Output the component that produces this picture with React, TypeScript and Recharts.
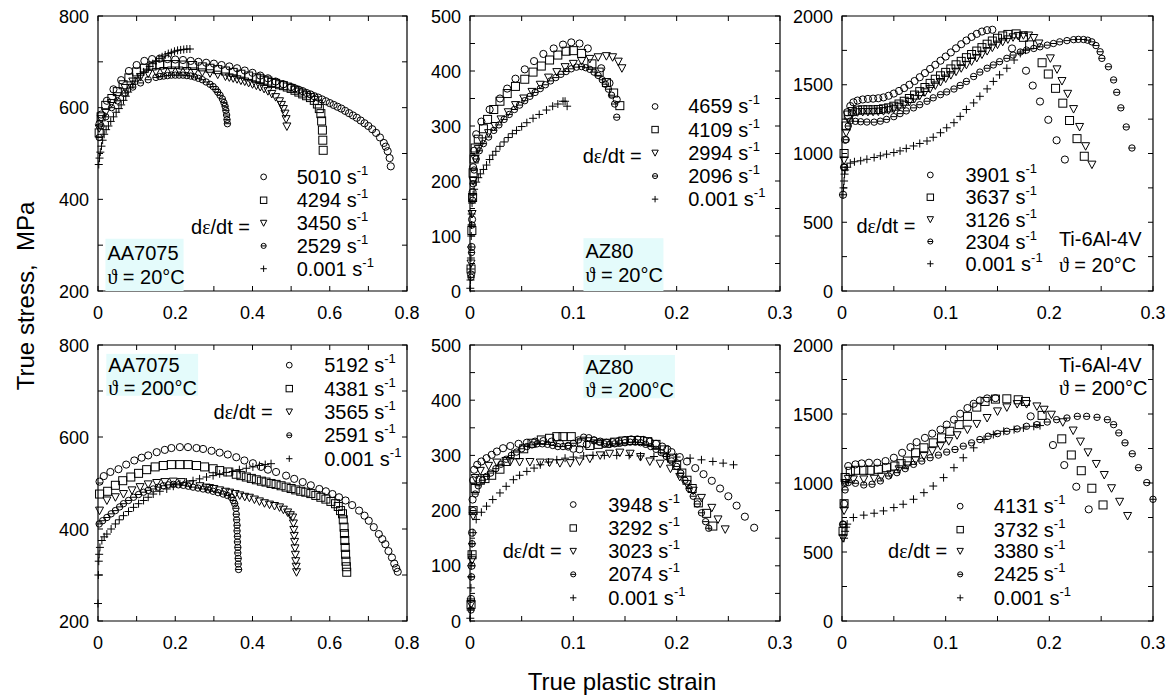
import React from 'react'
import { ReferenceArea, Scatter, ScatterChart, XAxis, YAxis } from 'recharts'

type Pt = [number, number]
type Kind = 'circle' | 'square' | 'triangle' | 'circleLine' | 'plus'

// ---- AA7075, 20 °C (strain, stress MPa)
const aa20_5010: Pt[] = [[0.004,565],[0.008,585],[0.023,615],[0.04,640],[0.06,660],[0.08,680],[0.1,693],[0.12,702],[0.14,706],[0.16,707],[0.18,706],[0.2,705],[0.22,704],[0.24,702],[0.26,700],[0.28,698],[0.3,696],[0.32,693],[0.34,690],[0.36,686],[0.38,681],[0.4,676],[0.42,670],[0.44,664],[0.46,657],[0.48,651],[0.5,645],[0.51,642],[0.52,639],[0.53,636],[0.54,632],[0.55,629],[0.56,625],[0.57,622],[0.58,618],[0.59,614],[0.6,610],[0.61,606],[0.62,602],[0.63,598],[0.64,593],[0.65,588],[0.66,583],[0.67,578],[0.68,572],[0.69,566],[0.7,560],[0.71,553],[0.72,545],[0.73,535],[0.74,523],[0.745,515],[0.75,505],[0.755,490],[0.758,472]]
const aa20_4294: Pt[] = [[0.003,545],[0.008,580],[0.02,605],[0.036,620],[0.05,635],[0.065,650],[0.08,665],[0.1,678],[0.12,686],[0.14,691],[0.16,693],[0.18,694],[0.2,694],[0.22,693],[0.245,692],[0.27,689],[0.29,686],[0.31,683],[0.33,680],[0.35,677],[0.37,673],[0.39,669],[0.41,665],[0.42,663],[0.43,660],[0.44,658],[0.45,655],[0.46,653],[0.47,650],[0.48,648],[0.49,645],[0.5,642],[0.51,638],[0.52,634],[0.53,630],[0.54,626],[0.55,622],[0.56,616],[0.568,608],[0.573,598],[0.577,587],[0.579,571],[0.581,551],[0.582,529],[0.583,507]]
const aa20_3450: Pt[] = [[0.003,555],[0.008,575],[0.02,590],[0.035,610],[0.05,625],[0.07,643],[0.09,657],[0.11,667],[0.13,674],[0.15,678],[0.17,680],[0.19,681],[0.21,681],[0.23,680],[0.25,679],[0.27,677],[0.29,675],[0.31,672],[0.33,668],[0.34,666],[0.35,664],[0.36,662],[0.37,659],[0.38,657],[0.39,654],[0.4,651],[0.41,648],[0.42,645],[0.43,641],[0.44,636],[0.45,630],[0.46,623],[0.47,614],[0.475,606],[0.48,597],[0.484,587],[0.487,575],[0.489,559]]
const aa20_2529: Pt[] = [[0.003,535],[0.008,560],[0.02,580],[0.035,600],[0.05,615],[0.07,632],[0.09,645],[0.11,654],[0.13,661],[0.15,666],[0.16,668],[0.17,669],[0.18,670],[0.19,671],[0.2,671],[0.21,671],[0.22,671],[0.23,670],[0.24,669],[0.25,667],[0.26,664],[0.27,661],[0.28,656],[0.29,651],[0.298,646],[0.305,640],[0.31,634],[0.316,627],[0.322,619],[0.326,611],[0.329,603],[0.331,594],[0.333,584],[0.334,574],[0.335,565]]
const aa20_0001: Pt[] = [[0.002,476],[0.004,490],[0.006,503],[0.009,516],[0.012,529],[0.016,542],[0.021,552],[0.027,560],[0.033,570],[0.04,580],[0.047,590],[0.054,598],[0.06,606],[0.066,616],[0.072,625],[0.078,634],[0.084,643],[0.09,651],[0.096,658],[0.103,665],[0.11,671],[0.118,678],[0.126,684],[0.134,690],[0.142,696],[0.15,702],[0.158,707],[0.166,711],[0.174,715],[0.182,718],[0.19,720],[0.198,723],[0.206,725],[0.214,726],[0.222,727],[0.23,728],[0.238,728]]

// ---- AZ80, 20 °C
const az20_4659: Pt[] = [[0.001,30],[0.0015,80],[0.002,130],[0.0025,180],[0.003,225],[0.004,255],[0.006,285],[0.011,308],[0.019,330],[0.029,350],[0.036,368],[0.044,386],[0.053,403],[0.062,418],[0.071,431],[0.081,441],[0.09,448],[0.098,452],[0.106,450],[0.114,441],[0.127,405],[0.135,378],[0.142,348]]
const az20_4109: Pt[] = [[0.001,40],[0.0018,110],[0.0025,170],[0.003,215],[0.004,240],[0.005,260],[0.008,276],[0.013,295],[0.017,312],[0.023,330],[0.029,345],[0.036,359],[0.044,372],[0.053,385],[0.061,398],[0.069,409],[0.077,420],[0.085,429],[0.093,436],[0.1,437],[0.108,432],[0.118,413],[0.125,398],[0.132,379],[0.139,360],[0.145,337]]
const az20_2994: Pt[] = [[0.001,50],[0.002,140],[0.003,200],[0.005,240],[0.008,258],[0.012,272],[0.018,287],[0.024,300],[0.03,312],[0.037,325],[0.044,338],[0.052,350],[0.06,362],[0.068,375],[0.076,388],[0.084,398],[0.092,407],[0.1,413],[0.108,418],[0.116,422],[0.124,425],[0.132,427],[0.138,425],[0.1435,417],[0.147,405]]
const az20_2096: Pt[] = [[0.001,25],[0.0015,70],[0.002,120],[0.0025,165],[0.003,195],[0.004,220],[0.006,240],[0.009,255],[0.013,268],[0.018,280],[0.023,292],[0.028,302],[0.033,312],[0.038,321],[0.043,330],[0.048,338],[0.053,346],[0.058,354],[0.063,361],[0.068,368],[0.073,375],[0.078,382],[0.083,388],[0.088,394],[0.093,399],[0.098,404],[0.103,407],[0.108,408],[0.112,406],[0.116,403],[0.12,398],[0.124,392],[0.128,384],[0.131,376],[0.134,367],[0.137,356],[0.14,340],[0.142,316]]
const az20_0001: Pt[] = [[0.0003,5],[0.0005,20],[0.0007,40],[0.0009,60],[0.001,80],[0.0012,100],[0.0014,120],[0.0016,140],[0.002,160],[0.003,175],[0.004,185],[0.006,198],[0.008,206],[0.01,213],[0.013,221],[0.016,229],[0.019,239],[0.022,247],[0.025,254],[0.029,263],[0.033,271],[0.037,279],[0.041,286],[0.045,292],[0.05,299],[0.055,306],[0.061,314],[0.067,321],[0.074,329],[0.08,336],[0.085,340],[0.09,345],[0.092,345],[0.094,336]]

// ---- Ti-6Al-4V, 20 °C
const ti20_3901: Pt[] = [[0.001,700],[0.002,900],[0.003,1100],[0.005,1300],[0.008,1345],[0.011,1372],[0.015,1385],[0.02,1393],[0.025,1397],[0.03,1399],[0.035,1402],[0.04,1408],[0.045,1420],[0.05,1436],[0.055,1455],[0.06,1476],[0.065,1500],[0.07,1527],[0.075,1555],[0.08,1585],[0.085,1615],[0.09,1645],[0.095,1675],[0.1,1705],[0.105,1735],[0.11,1765],[0.115,1795],[0.12,1822],[0.125,1848],[0.13,1870],[0.135,1887],[0.14,1897],[0.145,1900],[0.164,1764],[0.1775,1602],[0.184,1494],[0.191,1378],[0.199,1245],[0.207,1096],[0.215,956]]
const ti20_3637: Pt[] = [[0.002,1000],[0.004,1200],[0.006,1280],[0.01,1305],[0.015,1315],[0.02,1318],[0.025,1318],[0.03,1318],[0.035,1320],[0.04,1325],[0.045,1332],[0.05,1344],[0.055,1360],[0.06,1380],[0.065,1400],[0.07,1425],[0.075,1450],[0.08,1480],[0.085,1510],[0.09,1540],[0.095,1565],[0.1,1590],[0.105,1615],[0.11,1645],[0.115,1670],[0.12,1697],[0.125,1720],[0.13,1745],[0.135,1770],[0.14,1795],[0.145,1818],[0.15,1838],[0.155,1855],[0.16,1866],[0.168,1870],[0.175,1845],[0.181,1790],[0.193,1660],[0.199,1578],[0.206,1474],[0.213,1366],[0.2195,1240],[0.2267,1108],[0.2337,980]]
const ti20_3126: Pt[] = [[0.002,950],[0.004,1150],[0.006,1250],[0.01,1290],[0.015,1300],[0.02,1302],[0.025,1302],[0.03,1303],[0.035,1305],[0.04,1308],[0.045,1315],[0.05,1325],[0.055,1340],[0.06,1355],[0.065,1375],[0.07,1398],[0.075,1420],[0.08,1445],[0.085,1470],[0.09,1495],[0.095,1520],[0.1,1545],[0.105,1570],[0.11,1595],[0.115,1620],[0.12,1645],[0.125,1670],[0.13,1695],[0.135,1720],[0.14,1745],[0.145,1770],[0.15,1792],[0.155,1812],[0.16,1830],[0.165,1845],[0.17,1855],[0.175,1860],[0.18,1858],[0.185,1840],[0.19,1800],[0.201,1692],[0.2074,1612],[0.2122,1527],[0.2177,1434],[0.2234,1323],[0.2292,1193],[0.235,1053],[0.2411,919]]
const ti20_2304: Pt[] = [[0.002,900],[0.004,1100],[0.006,1200],[0.008,1236],[0.013,1234],[0.018,1231],[0.024,1229],[0.031,1228],[0.037,1235],[0.043,1248],[0.05,1268],[0.056,1290],[0.062,1310],[0.069,1332],[0.075,1355],[0.082,1380],[0.088,1405],[0.095,1428],[0.101,1448],[0.108,1469],[0.114,1495],[0.12,1524],[0.127,1560],[0.133,1592],[0.14,1620],[0.146,1644],[0.152,1668],[0.159,1692],[0.165,1716],[0.172,1738],[0.178,1752],[0.185,1764],[0.191,1776],[0.198,1788],[0.204,1800],[0.21,1812],[0.217,1821],[0.2235,1828],[0.228,1830],[0.233,1829],[0.237,1824],[0.241,1812],[0.245,1785],[0.249,1740],[0.2507,1692],[0.257,1631],[0.262,1535],[0.265,1445],[0.269,1332],[0.2742,1193],[0.2797,1040]]
const ti20_0001: Pt[] = [[0.001,700],[0.0015,750],[0.002,800],[0.0025,850],[0.003,880],[0.005,900],[0.008,930],[0.012,940],[0.018,947],[0.024,958],[0.031,971],[0.037,983],[0.043,995],[0.05,1007],[0.056,1019],[0.062,1037],[0.069,1055],[0.075,1073],[0.082,1091],[0.088,1118],[0.095,1151],[0.101,1187],[0.108,1224],[0.114,1270],[0.12,1320],[0.127,1368],[0.133,1416],[0.14,1470],[0.146,1524],[0.152,1572],[0.159,1620],[0.166,1680],[0.172,1728],[0.177,1752]]

// ---- AA7075, 200 °C
const aa200_5192: Pt[] = [[0.004,503],[0.015,515],[0.032,524],[0.053,530],[0.073,540],[0.094,549],[0.113,555],[0.13,560],[0.152,567],[0.173,572],[0.19,576],[0.212,578],[0.233,578],[0.255,576],[0.272,574],[0.294,570],[0.315,566],[0.336,562],[0.358,556],[0.379,549],[0.401,543],[0.422,535],[0.44,529],[0.461,524],[0.487,516],[0.508,509],[0.53,502],[0.551,495],[0.573,487],[0.59,482],[0.607,476],[0.624,469],[0.641,462],[0.658,452],[0.676,440],[0.69,429],[0.701,418],[0.714,404],[0.727,389],[0.736,378],[0.744,367],[0.752,352],[0.761,338],[0.767,325],[0.772,315],[0.776,307]]
const aa200_4381: Pt[] = [[0.004,476],[0.025,482],[0.045,495],[0.064,505],[0.085,513],[0.105,521],[0.126,529],[0.148,535],[0.169,538],[0.19,540],[0.212,540],[0.233,540],[0.255,538],[0.276,535],[0.298,531],[0.315,527],[0.336,524],[0.358,519],[0.37,516],[0.384,513],[0.397,510],[0.41,507],[0.423,504],[0.435,502],[0.448,499],[0.461,497],[0.474,494],[0.487,491],[0.5,488],[0.512,485],[0.525,482],[0.538,480],[0.551,477],[0.564,473],[0.577,469],[0.59,465],[0.603,460],[0.615,455],[0.622,449],[0.628,440],[0.633,433],[0.635,420],[0.637,404],[0.638,390],[0.639,375],[0.64,360],[0.641,345],[0.642,330],[0.643,318],[0.644,306]]
const aa200_3565: Pt[] = [[0.004,440],[0.023,462],[0.045,469],[0.066,476],[0.088,484],[0.109,491],[0.13,497],[0.152,500],[0.173,502],[0.195,503],[0.216,502],[0.238,497],[0.264,493],[0.28,490],[0.289,489],[0.3,487],[0.315,484],[0.33,481],[0.341,479],[0.355,476],[0.367,473],[0.38,470],[0.392,468],[0.405,464],[0.418,460],[0.431,456],[0.444,453],[0.457,450],[0.47,447],[0.48,442],[0.491,436],[0.498,430],[0.504,425],[0.506,412],[0.507,398],[0.508,385],[0.509,372],[0.51,358],[0.511,344],[0.512,330],[0.513,318],[0.514,306]]
const aa200_2591: Pt[] = [[0.003,411],[0.012,418],[0.023,425],[0.034,433],[0.045,440],[0.056,448],[0.066,455],[0.079,462],[0.092,469],[0.105,475],[0.118,480],[0.13,484],[0.143,487],[0.156,491],[0.169,494],[0.182,496],[0.195,497],[0.208,496],[0.221,495],[0.234,493],[0.246,491],[0.259,489],[0.272,487],[0.285,485],[0.298,482],[0.311,479],[0.324,476],[0.335,473],[0.345,469],[0.35,462],[0.354,455],[0.357,445],[0.358,432],[0.359,420],[0.36,408],[0.36,396],[0.361,384],[0.361,372],[0.362,360],[0.362,348],[0.363,336],[0.363,324],[0.364,312]]
const aa200_0001: Pt[] = [[0.0,238],[0.001,300],[0.002,330],[0.003,345],[0.005,360],[0.01,375],[0.016,383],[0.023,389],[0.034,400],[0.045,411],[0.055,420],[0.066,429],[0.079,438],[0.092,447],[0.105,455],[0.118,462],[0.13,469],[0.143,476],[0.16,482],[0.178,487],[0.195,493],[0.212,498],[0.229,502],[0.246,505],[0.263,509],[0.281,513],[0.298,516],[0.315,520],[0.332,523],[0.349,525],[0.366,529],[0.384,532],[0.401,535],[0.418,538],[0.433,540],[0.448,542]]

// ---- AZ80, 200 °C
const az200_3948: Pt[] = [[0.001,40],[0.0015,100],[0.002,160],[0.0025,220],[0.003,255],[0.004,274],[0.007,283],[0.011,289],[0.016,295],[0.021,301],[0.026,307],[0.032,313],[0.039,317],[0.047,321],[0.055,323],[0.063,325],[0.071,326],[0.079,325],[0.087,322],[0.095,316],[0.1,312],[0.106,311],[0.113,320],[0.12,327],[0.126,325],[0.132,323],[0.138,324],[0.144,326],[0.15,328],[0.156,329],[0.162,329],[0.168,328],[0.174,325],[0.18,321],[0.186,316],[0.191,311],[0.195,306],[0.203,297],[0.21,289],[0.218,277],[0.226,266],[0.234,254],[0.242,240],[0.25,226],[0.258,209],[0.266,189],[0.275,169]]
const az200_3292: Pt[] = [[0.001,30],[0.002,120],[0.003,200],[0.005,240],[0.01,255],[0.0145,258],[0.021,264],[0.029,275],[0.035,289],[0.044,301],[0.052,312],[0.06,322],[0.069,328],[0.077,331],[0.084,334],[0.09,334],[0.098,334],[0.108,323],[0.116,318],[0.124,320],[0.132,322],[0.14,324],[0.148,326],[0.156,327],[0.164,327],[0.172,325],[0.18,320],[0.188,310],[0.195,295],[0.2,282],[0.205,268],[0.21,255],[0.215,240],[0.221,214],[0.229,195],[0.235,172]]
const az200_3023: Pt[] = [[0.001,30],[0.002,110],[0.003,190],[0.005,259],[0.01,272],[0.018,281],[0.026,287],[0.039,289],[0.048,288],[0.058,288],[0.068,287],[0.077,287],[0.087,286],[0.097,286],[0.106,289],[0.116,294],[0.126,300],[0.135,303],[0.145,305],[0.155,303],[0.165,297],[0.174,289],[0.184,285],[0.194,276],[0.203,261],[0.21,248],[0.216,236],[0.224,223],[0.234,205],[0.24,184],[0.247,166]]
const az200_2074: Pt[] = [[0.001,20],[0.0015,80],[0.002,140],[0.003,200],[0.005,230],[0.008,245],[0.012,255],[0.016,262],[0.02,268],[0.025,276],[0.03,284],[0.035,293],[0.04,300],[0.045,306],[0.05,312],[0.055,316],[0.06,319],[0.065,321],[0.07,321],[0.075,320],[0.08,318],[0.085,316],[0.09,316],[0.095,318],[0.1,322],[0.105,328],[0.11,333],[0.115,332],[0.12,328],[0.125,324],[0.13,321],[0.135,320],[0.14,321],[0.145,322],[0.15,323],[0.155,324],[0.16,324],[0.165,323],[0.17,320],[0.175,316],[0.18,311],[0.185,305],[0.19,298],[0.195,290],[0.2,280],[0.204,268],[0.208,255],[0.212,240],[0.216,226],[0.22,212],[0.224,196],[0.228,180],[0.231,168]]
const az200_0001: Pt[] = [[0.0003,5],[0.0005,20],[0.0007,40],[0.0009,60],[0.001,80],[0.0012,100],[0.0015,120],[0.002,140],[0.003,160],[0.006,184],[0.011,197],[0.016,208],[0.022,220],[0.029,232],[0.035,244],[0.042,256],[0.048,264],[0.055,271],[0.062,277],[0.068,283],[0.076,288],[0.084,292],[0.092,295],[0.1,297],[0.11,299],[0.119,300],[0.13,300],[0.142,300],[0.154,300],[0.165,299],[0.178,298],[0.19,298],[0.2,297],[0.213,295],[0.224,292],[0.235,289],[0.245,286],[0.255,283]]

// ---- Ti-6Al-4V, 200 °C
const ti200_4131: Pt[] = [[0.001,700],[0.002,850],[0.003,1000],[0.006,1123],[0.013,1135],[0.019,1142],[0.026,1147],[0.034,1147],[0.042,1159],[0.05,1183],[0.058,1219],[0.066,1260],[0.072,1296],[0.08,1327],[0.087,1358],[0.095,1387],[0.101,1423],[0.108,1459],[0.114,1502],[0.121,1543],[0.127,1574],[0.133,1598],[0.14,1613],[0.148,1615],[0.182,1483],[0.2035,1275],[0.2144,1130],[0.226,973],[0.238,809]]
const ti200_3732: Pt[] = [[0.001,650],[0.002,850],[0.003,1040],[0.008,1085],[0.013,1092],[0.021,1092],[0.027,1092],[0.035,1099],[0.043,1111],[0.051,1123],[0.057,1140],[0.063,1159],[0.071,1219],[0.079,1255],[0.088,1291],[0.096,1327],[0.104,1375],[0.113,1423],[0.121,1483],[0.13,1550],[0.138,1591],[0.148,1608],[0.159,1610],[0.17,1603],[0.177,1591],[0.193,1490],[0.212,1320],[0.2212,1203],[0.2308,1089],[0.241,962],[0.2518,841]]
const ti200_3380: Pt[] = [[0.001,600],[0.002,800],[0.003,1000],[0.006,1030],[0.011,1026],[0.021,1026],[0.031,1031],[0.038,1046],[0.047,1063],[0.055,1099],[0.063,1128],[0.071,1164],[0.079,1195],[0.087,1231],[0.095,1267],[0.103,1303],[0.111,1346],[0.121,1387],[0.13,1428],[0.14,1471],[0.15,1519],[0.159,1548],[0.169,1572],[0.178,1572],[0.188,1555],[0.195,1531],[0.202,1495],[0.213,1440],[0.223,1380],[0.23,1300],[0.2373,1222],[0.2453,1138],[0.253,1058],[0.26,962],[0.2678,864],[0.2755,761]]
const ti200_2425: Pt[] = [[0.001,700],[0.003,950],[0.006,1003],[0.013,998],[0.021,986],[0.029,991],[0.037,1015],[0.045,1051],[0.053,1075],[0.061,1104],[0.069,1135],[0.077,1159],[0.085,1183],[0.093,1202],[0.101,1224],[0.109,1243],[0.117,1267],[0.125,1291],[0.133,1315],[0.141,1339],[0.15,1358],[0.159,1375],[0.169,1392],[0.178,1411],[0.188,1423],[0.198,1442],[0.207,1459],[0.217,1471],[0.227,1483],[0.236,1483],[0.246,1476],[0.256,1459],[0.262,1423],[0.267,1363],[0.273,1291],[0.28,1212],[0.286,1111],[0.294,1003],[0.3,882]]
const ti200_0001: Pt[] = [[0.002,600],[0.003,650],[0.004,680],[0.005,702],[0.011,750],[0.021,767],[0.031,781],[0.04,798],[0.05,822],[0.059,846],[0.069,882],[0.079,930],[0.088,978],[0.098,1039],[0.108,1111],[0.117,1183],[0.127,1255],[0.137,1315],[0.146,1351],[0.156,1375],[0.166,1387],[0.175,1399],[0.185,1411],[0.191,1416]]

// legend labels
const rates_aa20 = ['5010', '4294', '3450', '2529', '0.001']
const rates_az20 = ['4659', '4109', '2994', '2096', '0.001']
const rates_ti20 = ['3901', '3637', '3126', '2304', '0.001']
const rates_aa200 = ['5192', '4381', '3565', '2591', '0.001']
const rates_az200 = ['3948', '3292', '3023', '2074', '0.001']
const rates_ti200 = ['4131', '3732', '3380', '2425', '0.001']

const kinds: Kind[] = ['circle', 'square', 'triangle', 'circleLine', 'plus']

// axis ticks
const xTicksAA = [0, 0.1, 0.2, 0.3, 0.4, 0.5, 0.6, 0.7, 0.8]
const xLabelsAA = [0, 0.2, 0.4, 0.6, 0.8]
const xTicksNarrow = [0, 0.05, 0.1, 0.15, 0.2, 0.25, 0.3]
const xLabelsNarrow = [0, 0.1, 0.2, 0.3]
const yTicksAA = [200, 300, 400, 500, 600, 700, 800]
const yLabelsAA = [200, 400, 600, 800]
const yTicksAZ = [0, 50, 100, 150, 200, 250, 300, 350, 400, 450, 500]
const yLabelsAZ = [0, 100, 200, 300, 400, 500]
const yTicksTI = [0, 250, 500, 750, 1000, 1250, 1500, 1750, 2000]
const yLabelsTI = [0, 500, 1000, 1500, 2000]

const FONT = '"Liberation Sans", Arial, Helvetica, sans-serif'
const SERIF = '"Liberation Serif", "DejaVu Serif", serif'

function Marker({ kind, cx, cy, s = 1 }: { kind: Kind; cx: number; cy: number; s?: number }) {
  const st = { fill: 'none', stroke: '#000', strokeWidth: 1 }
  if (kind === 'circle') return <circle cx={cx} cy={cy} r={3.6 * s} {...st} />
  if (kind === 'square') return <rect x={cx - 4 * s} y={cy - 4 * s} width={8 * s} height={8 * s} {...st} />
  if (kind === 'triangle')
    return <path d={`M${cx - 4 * s},${cy - 3.5 * s}L${cx + 4 * s},${cy - 3.5 * s}L${cx},${cy + 4 * s}Z`} {...st} />
  if (kind === 'circleLine')
    return (
      <g>
        <circle cx={cx} cy={cy} r={3.2 * s} {...st} />
        <line x1={cx - 3.2 * s} y1={cy} x2={cx + 3.2 * s} y2={cy} stroke="#000" strokeWidth={1} />
      </g>
    )
  return (
    <g>
      <line x1={cx - 4 * s} y1={cy} x2={cx + 4 * s} y2={cy} stroke="#000" strokeWidth={1} />
      <line x1={cx} y1={cy - 4 * s} x2={cx} y2={cy + 4 * s} stroke="#000" strokeWidth={1} />
    </g>
  )
}

const ML = 60
const MR = 25
const MT = 10
const MB = 40

interface Legend {
  mx: number
  tx: number
  ex: number
  ey: number
  rows: number[]
  rates: string[]
}

interface Note {
  x1: number
  x2: number
  y1: number
  y2: number
  tx: number
  ny: number
  ty: number
  name: string
  temp: string
  bg: boolean
}

interface PanelProps {
  px: number
  py: number
  pw: number
  ph: number
  xMax: number
  yMin: number
  yMax: number
  xTicks: number[]
  xLabels: number[]
  yTicks: number[]
  yLabels: number[]
  series: Pt[][]
  legend: Legend
  note: Note
}

function Panel({ px, py, pw, ph, xMax, yMin, yMax, xTicks, xLabels, yTicks, yLabels, series }: PanelProps) {
  const bottom = MT + ph
  const xTick = (p: any) => {
    const v = p.payload.value
    return (
      <g>
        <line x1={p.x} y1={bottom} x2={p.x} y2={bottom - 5} stroke="#000" />
        <line x1={p.x} y1={MT} x2={p.x} y2={MT + 5} stroke="#000" />
        {xLabels.includes(v) && (
          <text x={p.x} y={bottom + 28} textAnchor="middle" fontSize={18} fontFamily={FONT} fill="#000">
            {String(v)}
          </text>
        )}
      </g>
    )
  }
  const yTick = (p: any) => {
    const v = p.payload.value
    return (
      <g>
        <line x1={ML} y1={p.y} x2={ML + 5} y2={p.y} stroke="#000" />
        <line x1={ML + pw} y1={p.y} x2={ML + pw - 5} y2={p.y} stroke="#000" />
        {yLabels.includes(v) && (
          <text x={ML - 9} y={p.y + 6.5} textAnchor="end" fontSize={18} fontFamily={FONT} fill="#000">
            {String(v)}
          </text>
        )}
      </g>
    )
  }
  return (
    <div style={{ position: 'absolute', left: px - ML, top: py - MT }}>
      <ScatterChart width={pw + ML + MR} height={ph + MT + MB} margin={{ top: MT, right: MR, left: 0, bottom: 0 }}>
        <XAxis
          type="number"
          dataKey="x"
          domain={[0, xMax]}
          ticks={xTicks}
          interval={0}
          height={MB}
          axisLine={false}
          tickLine={false}
          tickSize={0}
          tickMargin={0}
          tick={xTick}
        />
        <YAxis
          type="number"
          dataKey="y"
          domain={[yMin, yMax]}
          ticks={yTicks}
          interval={0}
          width={ML}
          axisLine={false}
          tickLine={false}
          tickSize={0}
          tickMargin={0}
          tick={yTick}
        />
        <ReferenceArea x1={0} x2={xMax} y1={yMin} y2={yMax} fill="none" stroke="#000" strokeWidth={1.2} />
        {series.map((pts, i) => (
          <Scatter
            key={i}
            data={pts.map(([x, y]) => ({ x, y }))}
            isAnimationActive={false}
            shape={(p: any) => <Marker kind={kinds[i]} cx={p.cx} cy={p.cy} />}
          />
        ))}
      </ScatterChart>
    </div>
  )
}

// panel frames (pixels) and legend / note positions as fractions of the frame
const frames = [
  { px: 98, py: 16, pw: 309, ph: 275 },
  { px: 470, py: 16, pw: 310, ph: 275 },
  { px: 842, py: 16, pw: 311, ph: 275 },
  { px: 98, py: 345, pw: 309, ph: 276 },
  { px: 470, py: 345, pw: 310, ph: 276 },
  { px: 842, py: 345, pw: 311, ph: 276 }
]
const legendFr = [
  { mx: 0.536, tx: 0.643, ex: 0.492, ey: 0.767, rows: [0.585, 0.67, 0.753, 0.836, 0.919] },
  { mx: 0.597, tx: 0.704, ex: 0.554, ey: 0.51, rows: [0.329, 0.413, 0.498, 0.582, 0.666] },
  { mx: 0.284, tx: 0.397, ex: 0.236, ey: 0.763, rows: [0.578, 0.659, 0.74, 0.82, 0.901] },
  { mx: 0.619, tx: 0.732, ex: 0.565, ey: 0.242, rows: [0.073, 0.158, 0.242, 0.327, 0.412] },
  { mx: 0.333, tx: 0.446, ex: 0.296, ey: 0.747, rows: [0.578, 0.663, 0.747, 0.831, 0.916] },
  { mx: 0.38, tx: 0.488, ex: 0.338, ey: 0.747, rows: [0.584, 0.669, 0.747, 0.831, 0.916] }
]
const noteFr = [
  { x1: 0.024, x2: 0.277, y1: 0.81, y2: 1, ny: 0.861, ty: 0.949, bg: true },
  { x1: 0.366, x2: 0.624, y1: 0.808, y2: 1, ny: 0.853, ty: 0.943, bg: true },
  { x1: 0.691, x2: 1, y1: 0.77, y2: 1, ny: 0.811, ty: 0.907, bg: false },
  { x1: 0.027, x2: 0.324, y1: 0.032, y2: 0.184, ny: 0.074, ty: 0.155, bg: true },
  { x1: 0.366, x2: 0.661, y1: 0.036, y2: 0.193, ny: 0.081, ty: 0.163, bg: true },
  { x1: 0.691, x2: 1, y1: 0.03, y2: 0.2, ny: 0.072, ty: 0.157, bg: false }
]
const names = ['AA7075', 'AZ80', 'Ti-6Al-4V', 'AA7075', 'AZ80', 'Ti-6Al-4V']
const temps = ['20°C', '20°C', '20°C', '200°C', '200°C', '200°C']
const rateSets = [rates_aa20, rates_az20, rates_ti20, rates_aa200, rates_az200, rates_ti200]
const seriesSets = [
  [aa20_5010, aa20_4294, aa20_3450, aa20_2529, aa20_0001],
  [az20_4659, az20_4109, az20_2994, az20_2096, az20_0001],
  [ti20_3901, ti20_3637, ti20_3126, ti20_2304, ti20_0001],
  [aa200_5192, aa200_4381, aa200_3565, aa200_2591, aa200_0001],
  [az200_3948, az200_3292, az200_3023, az200_2074, az200_0001],
  [ti200_4131, ti200_3732, ti200_3380, ti200_2425, ti200_0001]
]
const scales = [
  { xMax: 0.8, yMin: 200, yMax: 800, xTicks: xTicksAA, xLabels: xLabelsAA, yTicks: yTicksAA, yLabels: yLabelsAA },
  { xMax: 0.3, yMin: 0, yMax: 500, xTicks: xTicksNarrow, xLabels: xLabelsNarrow, yTicks: yTicksAZ, yLabels: yLabelsAZ },
  { xMax: 0.3, yMin: 0, yMax: 2000, xTicks: xTicksNarrow, xLabels: xLabelsNarrow, yTicks: yTicksTI, yLabels: yLabelsTI }
]

const panels: PanelProps[] = frames.map((f, i) => {
  const X = (v: number) => f.px + v * f.pw
  const Y = (v: number) => f.py + v * f.ph
  const lf = legendFr[i]
  const nf = noteFr[i]
  return {
    ...f,
    ...scales[i % 3],
    series: seriesSets[i],
    legend: { mx: X(lf.mx), tx: X(lf.tx), ex: X(lf.ex), ey: Y(lf.ey), rows: lf.rows.map(Y), rates: rateSets[i] },
    note: {
      x1: X(nf.x1), x2: X(nf.x2), y1: Y(nf.y1), y2: Y(nf.y2), tx: X(nf.x1) + 2,
      ny: Y(nf.ny), ty: Y(nf.ty), name: names[i], temp: temps[i], bg: nf.bg
    }
  }
})

const FS = 20

export default function App() {
  return (
    <div style={{ position: 'absolute', left: 0, top: 0, width: 1176, height: 697, background: '#fff', overflow: 'hidden' }}>
      {panels.map((p, i) => (
        <Panel key={i} {...p} />
      ))}
      <svg width={1176} height={697} style={{ position: 'absolute', left: 0, top: 0 }} fontFamily={FONT}>
        {panels.map(({ note: n, legend: l }, i) => (
          <g key={i}>
            {n.bg && <rect x={n.x1} y={n.y1} width={n.x2 - n.x1} height={n.y2 - n.y1} fill="#e4fbfb" />}
            <text x={n.tx} y={n.ny + 7} fontSize={FS} fill="#000">
              {n.name}
            </text>
            <text x={n.tx} y={n.ty + 7} fontSize={FS} fill="#000">
              <tspan fontFamily={SERIF}>ϑ</tspan> = {n.temp}
            </text>
            <text x={l.ex} y={l.ey + 7} fontSize={FS} textAnchor="end" fill="#000">
              d<tspan fontFamily={SERIF}>ε</tspan>/dt =
            </text>
            {l.rows.map((ry, j) => (
              <g key={j}>
                <Marker kind={kinds[j]} cx={l.mx} cy={ry} s={0.8} />
                <text x={l.tx} y={ry + 7} fontSize={FS} fill="#000">
                  {l.rates[j]} s
                  <tspan fontSize={13} dy={-9}>
                    -1
                  </tspan>
                </text>
              </g>
            ))}
          </g>
        ))}
        <text x={34} y={296} fontSize={24} textAnchor="middle" fill="#000" transform="rotate(-90 34 296)" style={{ whiteSpace: 'pre' }}>
          True stress,  MPa
        </text>
        <text x={622} y={690} fontSize={24} textAnchor="middle" fill="#000">
          True plastic strain
        </text>
      </svg>
    </div>
  )
}
